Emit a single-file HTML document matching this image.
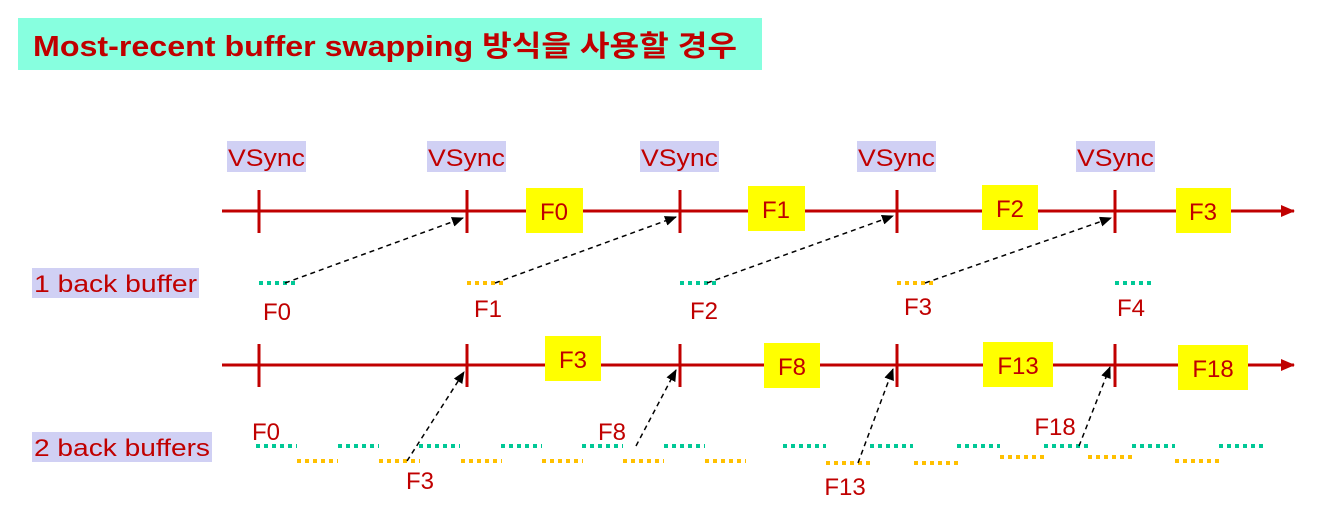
<!DOCTYPE html>
<html><head><meta charset="utf-8"><style>
html,body{margin:0;padding:0;background:#fff;}
svg{display:block;}
text{font-family:"Liberation Sans","Noto Sans CJK KR","NanumGothic",sans-serif;fill:#c00000;}
</style></head><body>
<svg width="1330" height="516" viewBox="0 0 1330 516" xmlns="http://www.w3.org/2000/svg">
<defs>
<marker id="ah" markerWidth="12" markerHeight="10" refX="11" refY="5" orient="auto" markerUnits="userSpaceOnUse">
<path d="M0,0 L12,5 L0,10 z" fill="#000"/></marker>
<marker id="rh" markerWidth="14" markerHeight="12" refX="13" refY="6" orient="auto" markerUnits="userSpaceOnUse">
<path d="M0,0 L14,6 L0,12 z" fill="#c00000"/></marker>
</defs>
<rect x="18" y="18" width="744" height="52" fill="#87ffdf"/>
<text x="33" y="56" font-size="29" font-weight="bold" textLength="704" lengthAdjust="spacingAndGlyphs">Most-recent buffer swapping 방식을 사용할 경우</text>

<g font-size="24">
<rect x="227" y="141" width="79" height="31" fill="#d0d0f4"/><text x="228" y="166" textLength="77" lengthAdjust="spacingAndGlyphs">VSync</text>
<rect x="427" y="141" width="79" height="31" fill="#d0d0f4"/><text x="428" y="166" textLength="77" lengthAdjust="spacingAndGlyphs">VSync</text>
<rect x="640" y="141" width="79" height="31" fill="#d0d0f4"/><text x="641" y="166" textLength="77" lengthAdjust="spacingAndGlyphs">VSync</text>
<rect x="857" y="141" width="79" height="31" fill="#d0d0f4"/><text x="858" y="166" textLength="77" lengthAdjust="spacingAndGlyphs">VSync</text>
<rect x="1076" y="141" width="79" height="31" fill="#d0d0f4"/><text x="1077" y="166" textLength="77" lengthAdjust="spacingAndGlyphs">VSync</text>
</g>

<g stroke="#c00000" stroke-width="3">
<line x1="222" y1="211" x2="1294" y2="211" marker-end="url(#rh)"/>
<line x1="222" y1="365" x2="1294" y2="365" marker-end="url(#rh)"/>
<line x1="259" y1="190" x2="259" y2="233"/><line x1="467" y1="190" x2="467" y2="233"/><line x1="680" y1="190" x2="680" y2="233"/><line x1="897" y1="190" x2="897" y2="233"/><line x1="1115" y1="190" x2="1115" y2="233"/>
<line x1="259" y1="344" x2="259" y2="387"/><line x1="467" y1="344" x2="467" y2="387"/><line x1="680" y1="344" x2="680" y2="387"/><line x1="897" y1="344" x2="897" y2="387"/><line x1="1115" y1="344" x2="1115" y2="387"/>
</g>

<g fill="#ffff00">
<rect x="526" y="188" width="57" height="45"/><rect x="748" y="186" width="57" height="45"/><rect x="982" y="185" width="56" height="45"/><rect x="1176" y="188" width="55" height="45"/>
<rect x="545" y="336" width="56" height="45"/><rect x="764" y="343" width="56" height="45"/><rect x="983" y="342" width="70" height="45"/><rect x="1178" y="345" width="70" height="45"/>
</g>
<g font-size="24" text-anchor="middle">
<text x="554" y="220">F0</text><text x="776" y="218">F1</text><text x="1010" y="217">F2</text><text x="1203" y="220">F3</text>
<text x="573" y="368">F3</text><text x="792" y="375">F8</text><text x="1018" y="374">F13</text><text x="1213" y="377">F18</text>
</g>

<rect x="32" y="268" width="167" height="30" fill="#d0d0f4"/><text x="34" y="292" font-size="24" textLength="163" lengthAdjust="spacingAndGlyphs">1 back buffer</text>
<rect x="32" y="432" width="180" height="30" fill="#d0d0f4"/><text x="34" y="456" font-size="24" textLength="176" lengthAdjust="spacingAndGlyphs">2 back buffers</text>

<g stroke-width="4" stroke-dasharray="4,4">
<line x1="259" y1="283" x2="298" y2="283" stroke="#00c896"/>
<line x1="467" y1="283" x2="506" y2="283" stroke="#ffc000"/>
<line x1="680" y1="283" x2="719" y2="283" stroke="#00c896"/>
<line x1="897" y1="283" x2="936" y2="283" stroke="#ffc000"/>
<line x1="1115" y1="283" x2="1154" y2="283" stroke="#00c896"/>
</g>
<g font-size="24" text-anchor="middle">
<text x="277" y="320">F0</text><text x="488" y="317">F1</text><text x="704" y="319">F2</text><text x="918" y="315">F3</text><text x="1131" y="316">F4</text>
</g>
<g stroke="#000" stroke-width="1.5" stroke-dasharray="5,4" fill="none">
<line x1="285" y1="283" x2="463" y2="218" marker-end="url(#ah)"/>
<line x1="495" y1="283" x2="676" y2="217" marker-end="url(#ah)"/>
<line x1="707" y1="283" x2="893" y2="216" marker-end="url(#ah)"/>
<line x1="925" y1="283" x2="1111" y2="218" marker-end="url(#ah)"/>
</g>

<g stroke-width="4" stroke-dasharray="4,4">
<g stroke="#00c896">
<line x1="256" y1="446" x2="297" y2="446"/><line x1="338" y1="446" x2="379" y2="446"/><line x1="419" y1="446" x2="460" y2="446"/><line x1="501" y1="446" x2="542" y2="446"/><line x1="582" y1="446" x2="623" y2="446"/><line x1="664" y1="446" x2="705" y2="446"/><line x1="783" y1="446" x2="826" y2="446"/><line x1="870" y1="446" x2="913" y2="446"/><line x1="957" y1="446" x2="1000" y2="446"/><line x1="1044" y1="446" x2="1088" y2="446"/><line x1="1132" y1="446" x2="1175" y2="446"/><line x1="1219" y1="446" x2="1263" y2="446"/>
</g>
<g stroke="#ffc000">
<line x1="297" y1="461" x2="338" y2="461"/><line x1="379" y1="461" x2="420" y2="461"/><line x1="461" y1="461" x2="502" y2="461"/><line x1="542" y1="461" x2="583" y2="461"/><line x1="623" y1="461" x2="664" y2="461"/><line x1="705" y1="461" x2="746" y2="461"/><line x1="826" y1="463" x2="870" y2="463"/><line x1="914" y1="463" x2="958" y2="463"/><line x1="1000" y1="457" x2="1044" y2="457"/><line x1="1088" y1="457" x2="1132" y2="457"/><line x1="1175" y1="461" x2="1219" y2="461"/>
</g>
</g>
<g font-size="24" text-anchor="middle">
<text x="266" y="440">F0</text><text x="420" y="489">F3</text><text x="612" y="440">F8</text><text x="845" y="495">F13</text><text x="1055" y="435">F18</text>
</g>
<g stroke="#000" stroke-width="1.5" stroke-dasharray="5,4" fill="none">
<line x1="407" y1="461" x2="464" y2="372" marker-end="url(#ah)"/>
<line x1="636" y1="446" x2="676" y2="370" marker-end="url(#ah)"/>
<line x1="858" y1="463" x2="893" y2="369" marker-end="url(#ah)"/>
<line x1="1079" y1="446" x2="1110" y2="367" marker-end="url(#ah)"/>
</g>
</svg>
</body></html>
